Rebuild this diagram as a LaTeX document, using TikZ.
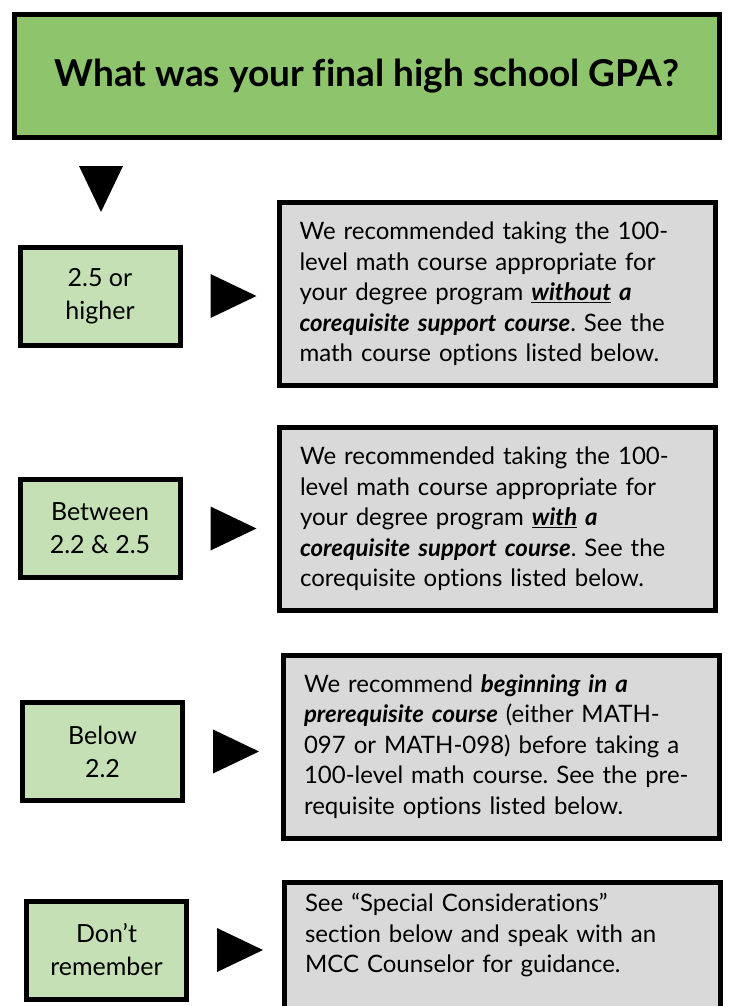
\documentclass[tikz,border=0pt]{standalone}
\usepackage{fontspec}
\setmainfont{Lato}[Ligatures=NoCommon]
\usetikzlibrary{calc}
\definecolor{qgreen}{HTML}{8DC46C}
\definecolor{optgreen}{HTML}{C5E0B4}
\definecolor{recgray}{HTML}{D9D9D9}
\newcommand{\bfit}[1]{\textbf{\textit{#1}}}
\frenchspacing

\begin{document}
\begin{tikzpicture}[x=1pt,y=-1pt,
  box/.style={draw=black, line width=5pt, inner sep=0pt},
  opt/.style={box, fill=optgreen, minimum width=160pt, minimum height=98pt, align=center, font=\fontsize{25}{33}\selectfont},
  rec/.style={box, fill=recgray, minimum width=436pt, minimum height=183pt, text width=395pt, align=left, font=\fontsize{24}{30.5}\selectfont}]
\useasboundingbox (0,0) rectangle (732,1006);
\clip (0,0) rectangle (732,1006);
\node[box, fill=qgreen, minimum width=705pt, minimum height=123pt, font=\fontsize{37}{42}\selectfont\bfseries] (gpa) at (367,76) {\raisebox{-3pt}{What was your final high school GPA?}};
\fill ([shift={(67,26)}]gpa.south west) -- ++(44,0) -- ++(-22,46) -- cycle;
% options
\node[opt] (s1) at (100,296) {2.5 or\\higher};
\node[opt] (s2) at (100,528.5) {Between\\2.2 \& 2.5};
\node[opt] (s3) at (102.5,751.5) {Below\\2.2};
\node[opt] (s4) at (106.5,950) {Don’t\\remember};
% recommendations
\node[rec] (b1) at (497,294) {We recommended taking the 100-\\level math course appropriate for\\your degree program \bfit{\underline{without} a}\\\bfit{corequisite support course}. See the\\math course options listed below.};
\node[rec] (b2) at (497.5,519) {We recommended taking the 100-\\level math course appropriate for\\your degree program \bfit{\underline{with} a}\\\bfit{corequisite support course}. See the\\corequisite options listed below.};
\node[rec] (b3) at (501.5,746.5) {We recommend \bfit{beginning in a}\\\bfit{prerequisite course} (either MATH-\\097 or MATH-098) before taking a\\100-level math course. See the pre-\\requisite options listed below.};
\node[rec] (b4) at (502.5,973.5) {\parbox[c][160pt][t]{395pt}{\raggedright See “Special Considerations”\\section below and speak with an\\MCC Counselor for guidance.}};
\foreach \n in {1,...,4}
  \fill ([xshift=28]s\n.east) ++(0,-22) -- ++(46,22) -- ++(-46,22) -- cycle;
\end{tikzpicture}
\end{document}
